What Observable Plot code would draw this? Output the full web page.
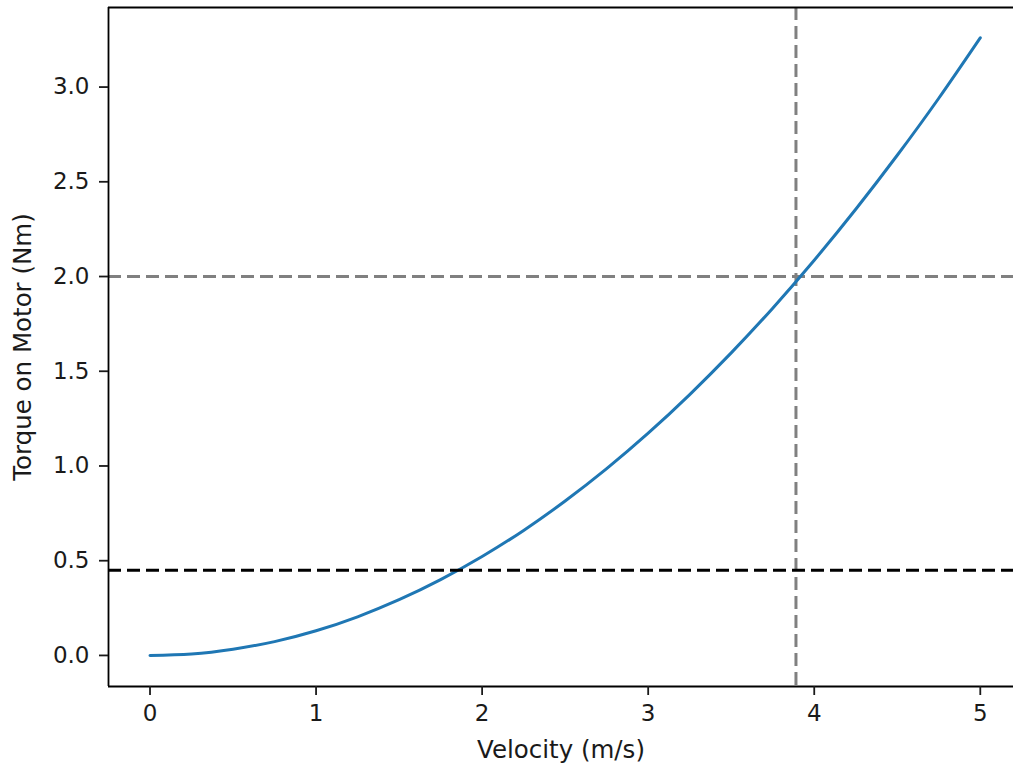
<!DOCTYPE html>
<html>
<head>
<meta charset="utf-8">
<script src="https://cdn.jsdelivr.net/npm/d3@7"></script>
<script src="https://cdn.jsdelivr.net/npm/@observablehq/plot@0.6"></script>
<style>
  html, body { margin: 0; padding: 0; background: #fff; }
  #chart svg { display: block; }
</style>
</head>
<body>
<div id="chart"></div>
<script>
// Values
const velocity = [0, 0.25, 0.5, 0.75, 1, 1.25, 1.5, 1.75, 2, 2.25, 2.5, 2.75, 3, 3.25, 3.5, 3.75, 4, 4.25, 4.5, 4.75, 5];
const torque   = [0, 0.008, 0.033, 0.073, 0.13, 0.204, 0.294, 0.4, 0.522, 0.66, 0.815, 0.986, 1.173, 1.377, 1.597, 1.833, 2.086, 2.355, 2.64, 2.941, 3.26];
const refTorqueGray = [2.0];
const refVelocityGray = [3.89];
const refTorqueBlack = [0.45];
const xTicks = [0, 1, 2, 3, 4, 5];
const yTicks = [0, 0.5, 1.0, 1.5, 2.0, 2.5, 3.0];

const data = velocity.map((v, i) => ({ v, t: torque[i] }));
const xDomain = [-0.25, 5.2];
const yDomain = [-0.164, 3.42];

const chart = Plot.plot({
  width: 1013,
  height: 765,
  marginLeft: 108,
  marginRight: 0,
  marginTop: 7,
  marginBottom: 79,
  style: { fontFamily: "DejaVu Sans", fontSize: "23px", color: "#1a1a1a", background: "#fff" },
  x: { domain: xDomain },
  y: { domain: yDomain },
  marks: [
    Plot.ruleY(refTorqueGray, { stroke: "#808080", strokeWidth: 3, strokeDasharray: "13,6" }),
    Plot.ruleX(refVelocityGray, { stroke: "#808080", strokeWidth: 3, strokeDasharray: "13,6" }),
    Plot.line(data, { x: "v", y: "t", stroke: "#1f77b4", strokeWidth: 3, curve: "natural" }),
    Plot.ruleY(refTorqueBlack, { stroke: "#000", strokeWidth: 3, strokeDasharray: "13,6" }),
    Plot.ruleX([xDomain[0]], { stroke: "#000", strokeWidth: 1.8 }),
    Plot.ruleY(yDomain, { stroke: "#000", strokeWidth: 1.8 }),
    Plot.axisX({ ticks: xTicks, tickFormat: d => String(d), tickSize: 9, tickPadding: 9, strokeWidth: 1.8, fontSize: 23,
      label: null }),
    Plot.axisX({ ticks: [], label: "Velocity (m/s)", labelArrow: "none", labelAnchor: "center", labelOffset: 71, fontSize: 24.5, dx: 4 }),
    Plot.axisY({ ticks: yTicks, tickFormat: d => d.toFixed(1), tickSize: 9, tickPadding: 10, strokeWidth: 1.8, fontSize: 23,
      label: null }),
    Plot.axisY({ ticks: [], label: "Torque on Motor (Nm)", labelArrow: "none", labelAnchor: "center", labelOffset: 95, fontSize: 24.5, dy: -4 })
  ]
});
document.getElementById("chart").appendChild(chart);
</script>
</body>
</html>
